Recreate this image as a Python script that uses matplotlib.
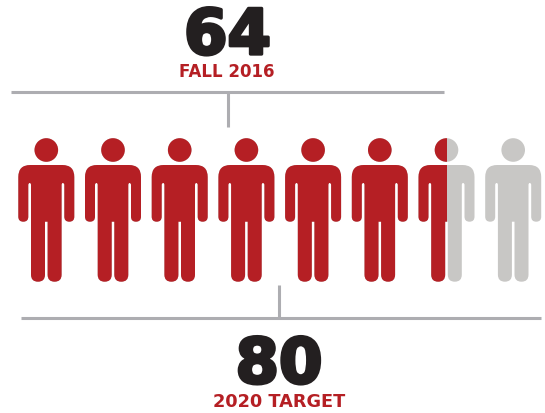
import matplotlib
matplotlib.use('Agg')
import matplotlib.pyplot as plt
import matplotlib.patheffects as pe
from matplotlib.path import Path
from matplotlib.patches import PathPatch, Circle, Rectangle

# values
current_value = '64'
current_label = 'FALL 2016'
target_value = '80'
target_label = '2020 TARGET'
# how much of each person is coloured
people_filled = [1, 1, 1, 1, 1, 1, 0.5, 0]

RED = '#b51f24'
GREY = '#c8c7c5'
LINE = '#adadb1'
DARK = '#231f20'

first_x = 46.3
spacing = 66.7


def person_path(cx):
    # half outline, mirrored for the right side. y is measured down from the shoulder line
    top, armpit, hand, foot = 165, 183, 221.7, 281.7
    r = 5
    R = 12
    half = [
        (0, top, Path.LINETO), (28 - R, top, Path.LINETO),
        (28, top, Path.CURVE3), (28, top + R, Path.CURVE3),
        (28, hand - r, Path.LINETO),
        (28, hand, Path.CURVE3), (23, hand, Path.CURVE3),
        (18, hand, Path.CURVE3), (18, hand - r, Path.CURVE3),
        (18, armpit + 2, Path.LINETO),
        (18, armpit, Path.CURVE3), (16.5, armpit, Path.CURVE3),
        (15.3, armpit, Path.CURVE3), (15.3, armpit + 2, Path.CURVE3),
        (15.3, foot - 7, Path.LINETO),
        (15.3, foot, Path.CURVE3), (8.3, foot, Path.CURVE3),
        (1.3, foot, Path.CURVE3), (1.3, foot - 7, Path.CURVE3),
        (1.3, hand, Path.LINETO), (0, hand, Path.LINETO),
    ]
    verts = [(cx + x, y) for x, y, c in half]
    codes = [c for x, y, c in half]
    codes[0] = Path.MOVETO
    # other side, walked backwards
    back = half[::-1]
    for k, (x, y, c) in enumerate(back[1:]):
        verts.append((cx - x, y))
        codes.append(half[len(half) - 1 - k][2])
    return Path(verts, codes)


fig = plt.figure(figsize=(5.45, 4.13), dpi=100)
ax = fig.add_axes([0, 0, 1, 1])
ax.set_xlim(0, 545)
ax.set_ylim(413, 0)
ax.axis('off')

for i, f in enumerate(people_filled):
    cx = first_x + i * spacing
    for colour, share in ((GREY, 1), (RED, f)):
        if share == 0:
            continue
        clip = Rectangle((cx - 30, 130), 60 * share, 160, transform=ax.transData)
        body = PathPatch(person_path(cx), fc=colour, ec='none')
        head = Circle((cx, 150), 11.8, fc=colour, ec='none')
        for p in (body, head):
            ax.add_patch(p)
            p.set_clip_path(clip)

# connector lines
ax.plot([11, 444], [92, 92], color=LINE, lw=2.2, solid_capstyle='butt')
ax.plot([228, 228], [92, 127], color=LINE, lw=2.2, solid_capstyle='butt')
ax.plot([21, 541], [318, 318], color=LINE, lw=2.2, solid_capstyle='butt')
ax.plot([279, 279], [285, 318], color=LINE, lw=2.2, solid_capstyle='butt')

fat = [pe.withStroke(linewidth=2.4, foreground=DARK)]
big = dict(family='DejaVu Sans', weight='bold', fontsize=45, color=DARK, ha='center', va='baseline', path_effects=fat)
small = dict(family='DejaVu Sans', weight='bold', color=RED, ha='center', va='baseline')

ax.text(227.5, 54, current_value, **big)
ax.text(227, 77, current_label, fontsize=12, **small)
ax.text(279, 383, target_value, **big)
ax.text(279.5, 407, target_label, fontsize=12.8, **small)

fig.savefig('out.png', dpi=100)
